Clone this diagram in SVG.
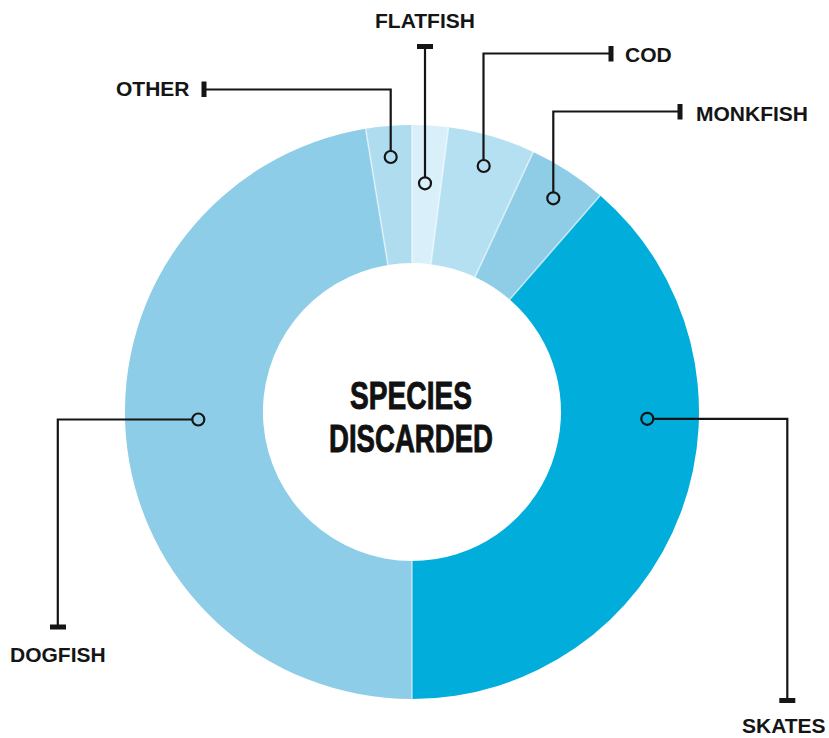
<svg xmlns="http://www.w3.org/2000/svg" width="829" height="738" viewBox="0 0 829 738">
<style>
.lbl{font-family:"Liberation Sans",Arial,sans-serif;font-weight:bold;font-size:21px;fill:#151515}
.ctr{font-family:"Liberation Sans",Arial,sans-serif;font-weight:bold;font-size:38px;fill:#111;stroke:#111;stroke-width:0.9}
.sep{stroke:#ffffff;stroke-width:1.6;stroke-opacity:0.55}
.ln{fill:none;stroke:#151515;stroke-width:2.2}
.dot{fill:none;stroke:#151515;stroke-width:2.2}
.bar{fill:#151515}
</style>
<rect width="829" height="738" fill="#ffffff"/>
<g id="skates">
<path d="M 600.29 195.40 A 287 287 0 0 1 412 699 L 412 561 A 149 149 0 0 0 509.75 299.55 Z" fill="#00addb"/>
<text class="lbl" x="742" y="732.5">SKATES</text>
</g>
<g id="dogfish">
<path d="M 412 699 A 287 287 0 0 1 365.62 128.76 L 387.92 264.95 A 149 149 0 0 0 412 561 Z" fill="#8ecde8"/>
<text class="lbl" x="10" y="662">DOGFISH</text>
</g>
<g id="other">
<path d="M 365.62 128.76 A 287 287 0 0 1 412 125 L 412 263 A 149 149 0 0 0 387.92 264.95 Z" fill="#b0dcef"/>
<text class="lbl" x="116" y="95.5">OTHER</text>
</g>
<g id="flatfish">
<path d="M 412 125 A 287 287 0 0 1 448.47 127.33 L 430.93 264.21 A 149 149 0 0 0 412 263 Z" fill="#d9eff9"/>
<text class="lbl" x="425" y="28" text-anchor="middle">FLATFISH</text>
</g>
<g id="cod">
<path d="M 448.47 127.33 A 287 287 0 0 1 533.29 151.89 L 474.97 276.96 A 149 149 0 0 0 430.93 264.21 Z" fill="#b5e0f1"/>
<text class="lbl" x="625" y="61.5">COD</text>
</g>
<g id="monkfish">
<path d="M 533.29 151.89 A 287 287 0 0 1 600.29 195.40 L 509.75 299.55 A 149 149 0 0 0 474.97 276.96 Z" fill="#8fcde7"/>
<text class="lbl" x="696" y="120.5">MONKFISH</text>
</g>
<g id="separators">
<line class="sep" x1="600.29" y1="195.40" x2="509.75" y2="299.55"/>
<line class="sep" x1="412" y1="699" x2="412" y2="561"/>
<line class="sep" x1="365.62" y1="128.76" x2="387.92" y2="264.95"/>
<line class="sep" x1="412" y1="125" x2="412" y2="263"/>
<line class="sep" x1="448.47" y1="127.33" x2="430.93" y2="264.21"/>
<line class="sep" x1="533.29" y1="151.89" x2="474.97" y2="276.96"/>
</g>
<g id="center">
<text class="ctr" x="411" y="408.5" text-anchor="middle" textLength="122" lengthAdjust="spacingAndGlyphs">SPECIES</text>
<text class="ctr" x="411" y="451.5" text-anchor="middle" textLength="164" lengthAdjust="spacingAndGlyphs">DISCARDED</text>
</g>
<g id="connectors">
<polyline class="ln" points="204,89.5 390.7,89.5 390.7,151"/>
<circle class="dot" cx="390.7" cy="157" r="6"/>
<rect class="bar" x="201.5" y="81.5" width="5" height="15.5"/>
<polyline class="ln" points="425,46.5 425,177"/>
<circle class="dot" cx="425" cy="183.3" r="6"/>
<rect class="bar" x="417" y="44" width="16" height="5"/>
<polyline class="ln" points="611,53.5 483.5,53.5 483.5,160"/>
<circle class="dot" cx="483.7" cy="166" r="6"/>
<rect class="bar" x="608.5" y="46" width="5" height="15.5"/>
<polyline class="ln" points="680,111.5 553.3,111.5 553.3,192"/>
<circle class="dot" cx="553.3" cy="198.3" r="6"/>
<rect class="bar" x="677.5" y="104" width="5" height="15.5"/>
<polyline class="ln" points="653.3,418.8 787.3,418.8 787.3,700"/>
<circle class="dot" cx="647.3" cy="418.8" r="6"/>
<rect class="bar" x="779.3" y="698" width="16" height="5"/>
<polyline class="ln" points="192.3,419.5 57.8,419.5 57.8,626"/>
<circle class="dot" cx="198.3" cy="419.5" r="6"/>
<rect class="bar" x="50" y="624.5" width="16" height="5"/>
</g>
</svg>
